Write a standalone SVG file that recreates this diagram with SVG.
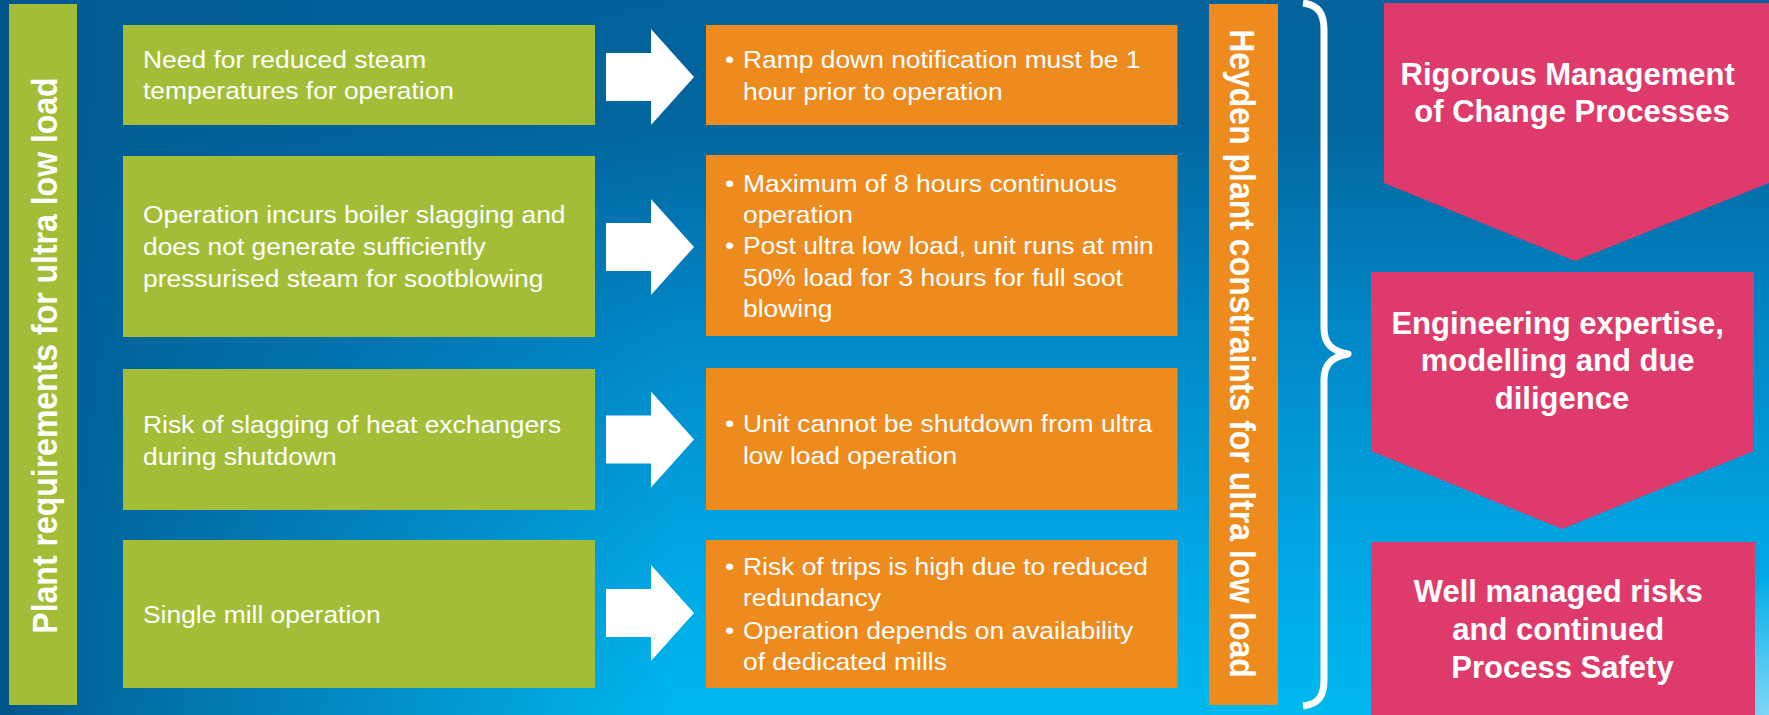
<svg xmlns="http://www.w3.org/2000/svg" width="1769" height="715" viewBox="0 0 1769 715">
  <defs>
    <linearGradient id="bgV" x1="0" y1="0" x2="0" y2="715" gradientUnits="userSpaceOnUse">
      <stop offset="0" stop-color="#03629b"/>
      <stop offset="0.18" stop-color="#03679f"/>
      <stop offset="0.45" stop-color="#0186c6"/>
      <stop offset="0.75" stop-color="#01a4e1"/>
      <stop offset="1" stop-color="#00b8ef"/>
    </linearGradient>
    <linearGradient id="bgLeft" x1="0" y1="0" x2="680" y2="0" gradientUnits="userSpaceOnUse">
      <stop offset="0" stop-color="#01548a" stop-opacity="1"/>
      <stop offset="0.15" stop-color="#025c93" stop-opacity="0.85"/>
      <stop offset="1" stop-color="#025c93" stop-opacity="0"/>
    </linearGradient>
    <radialGradient id="glow" cx="1769" cy="715" r="140" gradientUnits="userSpaceOnUse">
      <stop offset="0" stop-color="#8fd9f6" stop-opacity="0.9"/>
      <stop offset="1" stop-color="#8fd9f6" stop-opacity="0"/>
    </radialGradient>
    <style>
      .green { fill: #a3bd38; }
      .orange { fill: #ee8b1f; }
      .pink { fill: #de3b6c; }
      .arrow { fill: #ffffff; }
      .brace { fill: none; stroke: #ffffff; stroke-width: 7; stroke-linejoin: round; }
      .body { font-family: "Liberation Sans", Arial, sans-serif; font-size: 24px; fill: #ffffff; }
      .head { font-family: "Liberation Sans", Arial, sans-serif; font-size: 31px; font-weight: bold; fill: #ffffff; text-anchor: middle; }
      .side { font-family: "Liberation Sans", Arial, sans-serif; font-size: 32px; font-weight: bold; fill: #ffffff; text-anchor: middle; }
    </style>
  </defs>

  <!-- background -->
  <rect width="1769" height="715" fill="url(#bgV)"/>
  <rect width="1769" height="715" fill="url(#bgLeft)"/>
  <rect width="1769" height="715" fill="url(#glow)"/>

  <!-- left column title -->
  <g id="requirements-title">
    <rect class="green" x="9" y="4" width="68" height="701"/>
    <text class="side" transform="translate(57 355.5) scale(1.1 1) rotate(-90)">Plant requirements for ultra low load</text>
  </g>

  <!-- requirement boxes -->
  <g id="req-1">
    <rect class="green" x="123" y="25" width="472" height="100"/>
    <text class="body" transform="translate(143 0) scale(1.1 1)">
      <tspan x="0" y="67.7">Need for reduced steam</tspan>
      <tspan x="0" y="99.5">temperatures for operation</tspan>
    </text>
  </g>
  <g id="req-2">
    <rect class="green" x="123" y="156" width="472" height="181"/>
    <text class="body" transform="translate(143 0) scale(1.1 1)">
      <tspan x="0" y="223">Operation incurs boiler slagging and</tspan>
      <tspan x="0" y="255">does not generate sufficiently</tspan>
      <tspan x="0" y="287">pressurised steam for sootblowing</tspan>
    </text>
  </g>
  <g id="req-3">
    <rect class="green" x="123" y="369" width="472" height="141"/>
    <text class="body" transform="translate(143 0) scale(1.1 1)">
      <tspan x="0" y="433">Risk of slagging of heat exchangers</tspan>
      <tspan x="0" y="465">during shutdown</tspan>
    </text>
  </g>
  <g id="req-4">
    <rect class="green" x="123" y="540" width="472" height="148"/>
    <text class="body" transform="translate(143 0) scale(1.1 1)">
      <tspan x="0" y="623">Single mill operation</tspan>
    </text>
  </g>

  <!-- block arrows from requirements to constraints -->
  <g id="connectors">
    <polygon class="arrow" points="606,53 651,53 651,29 694,77 651,125 651,101 606,101"/>
    <polygon class="arrow" points="606,223 651,223 651,199 694,247 651,295 651,271 606,271"/>
    <polygon class="arrow" points="606,415.5 651,415.5 651,391.5 694,439.5 651,487.5 651,463.5 606,463.5"/>
    <polygon class="arrow" points="606,589 651,589 651,565 694,613 651,661 651,637 606,637"/>
    <path class="brace" d="M1303,3 C1318,5 1324,13 1324,30 L1324,328 C1324,344 1332,351 1348,354 C1332,357 1324,364 1324,380 L1324,680 C1324,697 1318,704 1303,706"/>
  </g>

  <!-- constraint boxes -->
  <g id="con-1">
    <rect class="orange" x="706" y="25" width="471.5" height="100"/>
    <text class="body" transform="translate(725 0) scale(1.1 1)"><tspan x="0" y="68.3">•</tspan></text>
    <text class="body" transform="translate(743 0) scale(1.1 1)">
      <tspan x="0" y="68.3">Ramp down notification must be 1</tspan>
      <tspan x="0" y="100">hour prior to operation</tspan>
    </text>
  </g>
  <g id="con-2">
    <rect class="orange" x="706" y="155" width="471.5" height="181"/>
    <text class="body" transform="translate(725 0) scale(1.1 1)">
      <tspan x="0" y="191.7">•</tspan>
      <tspan x="0" y="254.5">•</tspan>
    </text>
    <text class="body" transform="translate(743 0) scale(1.1 1)">
      <tspan x="0" y="191.7">Maximum of 8 hours continuous</tspan>
      <tspan x="0" y="223">operation</tspan>
      <tspan x="0" y="254.5">Post ultra low load, unit runs at min</tspan>
      <tspan x="0" y="286">50% load for 3 hours for full soot</tspan>
      <tspan x="0" y="317">blowing</tspan>
    </text>
  </g>
  <g id="con-3">
    <rect class="orange" x="706" y="368" width="471.5" height="142"/>
    <text class="body" transform="translate(725 0) scale(1.1 1)"><tspan x="0" y="432">•</tspan></text>
    <text class="body" transform="translate(743 0) scale(1.1 1)">
      <tspan x="0" y="432">Unit cannot be shutdown from ultra</tspan>
      <tspan x="0" y="464">low load operation</tspan>
    </text>
  </g>
  <g id="con-4">
    <rect class="orange" x="706" y="540" width="471.5" height="148"/>
    <text class="body" transform="translate(725 0) scale(1.1 1)">
      <tspan x="0" y="575">•</tspan>
      <tspan x="0" y="639">•</tspan>
    </text>
    <text class="body" transform="translate(743 0) scale(1.1 1)">
      <tspan x="0" y="575">Risk of trips is high due to reduced</tspan>
      <tspan x="0" y="606.5">redundancy</tspan>
      <tspan x="0" y="639">Operation depends on availability</tspan>
      <tspan x="0" y="670">of dedicated mills</tspan>
    </text>
  </g>

  <!-- right column title -->
  <g id="constraints-title">
    <rect class="orange" x="1209" y="4" width="69" height="701"/>
    <text class="side" transform="translate(1230 353.5) scale(1.1 1) rotate(90)">Heyden plant constraints for ultra low load</text>
  </g>

  <!-- outcome chevrons -->
  <g id="outcome-1">
    <polygon class="pink" points="1384,3 1769,3 1769,183 1575,261 1384,183"/>
    <text class="head">
      <tspan x="1572" y="85">Rigorous Management</tspan>
      <tspan x="1572" y="122">of Change Processes</tspan>
    </text>
  </g>
  <g id="outcome-2">
    <polygon class="pink" points="1371,272 1754,272 1754,451 1562,529 1371,451"/>
    <text class="head">
      <tspan x="1562" y="333.5">Engineering expertise,</tspan>
      <tspan x="1562" y="371">modelling and due</tspan>
      <tspan x="1562" y="408.5">diligence</tspan>
    </text>
  </g>
  <g id="outcome-3">
    <rect class="pink" x="1371" y="542" width="384" height="173"/>
    <text class="head">
      <tspan x="1562.5" y="602">Well managed risks</tspan>
      <tspan x="1562.5" y="640">and continued</tspan>
      <tspan x="1562.5" y="678">Process Safety</tspan>
    </text>
  </g>
</svg>
